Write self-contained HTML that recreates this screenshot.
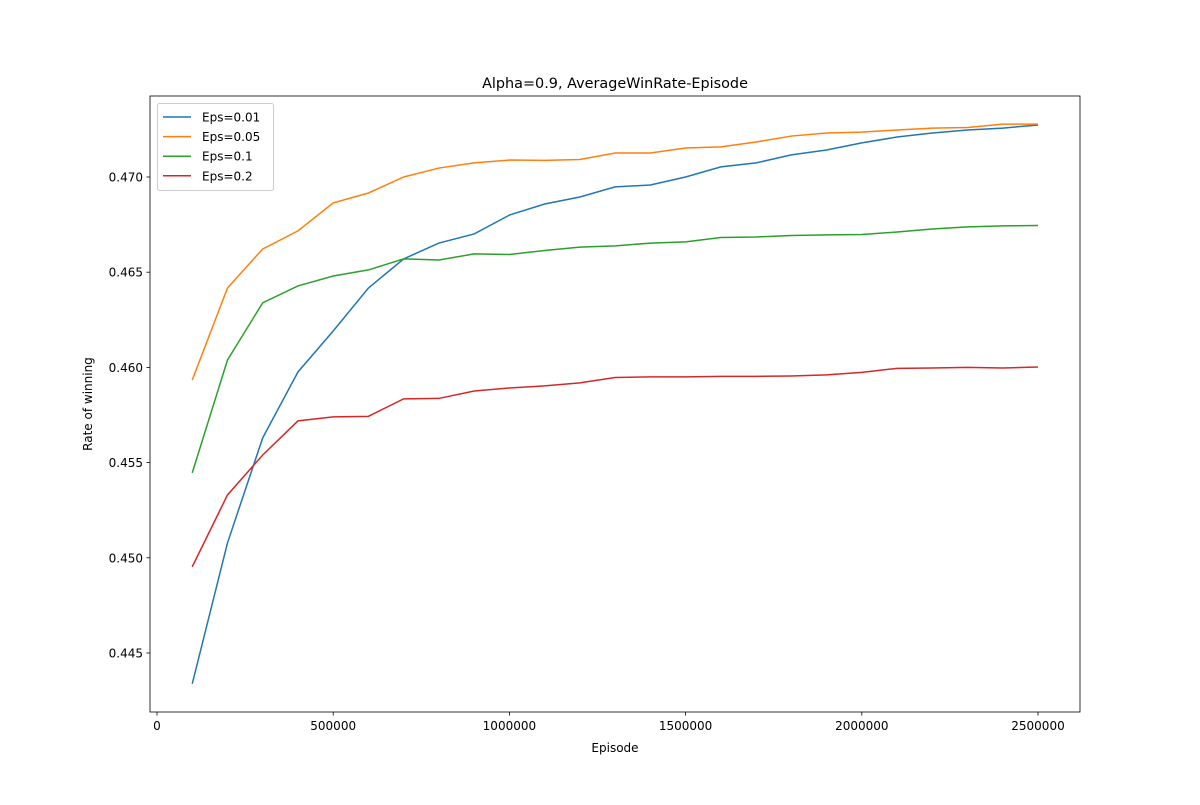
<!DOCTYPE html>
<html><head><meta charset="utf-8"><style>
body{margin:0;background:#fff;}
svg{font-family:"DejaVu Sans","Liberation Sans",sans-serif;}
</style></head><body>
<svg id="chart" width="1200" height="800">
<rect width="1200" height="800" fill="#fff"/>
</svg>
<script>
const episodes=[100000,200000,300000,400000,500000,600000,700000,800000,900000,1000000,1100000,1200000,1300000,1400000,1500000,1600000,1700000,1800000,1900000,2000000,2100000,2200000,2300000,2400000,2500000];
const eps001=[0.44338,0.45078,0.4563,0.45976,0.46191,0.46417,0.4657,0.46653,0.46701,0.468,0.46858,0.46895,0.46948,0.46958,0.470,0.47053,0.47074,0.47116,0.47142,0.47179,0.4721,0.47231,0.47247,0.47257,0.47273];
const eps005=[0.45934,0.46417,0.46622,0.46717,0.46864,0.46916,0.470,0.47047,0.47074,0.47089,0.47087,0.47092,0.47126,0.47126,0.47152,0.47158,0.47184,0.47215,0.47231,0.47236,0.47247,0.47257,0.4726,0.47278,0.47278];
const eps01=[0.45446,0.46039,0.46339,0.46428,0.4648,0.46512,0.4657,0.46564,0.46596,0.46593,0.46614,0.46632,0.46638,0.46653,0.46659,0.46682,0.46685,0.46693,0.46696,0.46698,0.46711,0.46727,0.46738,0.46743,0.46745];
const eps02=[0.44953,0.4533,0.4554,0.45719,0.4574,0.45743,0.45835,0.45837,0.45876,0.45892,0.45903,0.45919,0.45947,0.4595,0.4595,0.45953,0.45953,0.45955,0.45961,0.45974,0.45995,0.45997,0.46,0.45997,0.46002];
const seriesNames=["Eps=0.01","Eps=0.05","Eps=0.1","Eps=0.2"];
const xTicks=[0,500000,1000000,1500000,2000000,2500000];
const yTicks=[0.445,0.450,0.455,0.460,0.465,0.470];

const svg=document.getElementById('chart');
const NS='http://www.w3.org/2000/svg';
const L=150,R=1080,T=96,B=712;
const xs=v=>157+(v/2500000)*881;
const ys=v=>177+(0.470-v)/0.005*95.2;
function mk(t,a){const e=document.createElementNS(NS,t);for(const k in a)e.setAttribute(k,a[k]);svg.appendChild(e);return e;}

xTicks.forEach(t=>{
  const l=mk('line',{x1:xs(t),x2:xs(t),y1:B,y2:B+3.5,stroke:'#000','stroke-width':0.8});
  
  
  const tx=mk('text',{x:xs(t),y:B+18,'text-anchor':'middle','font-size':12});
  tx.textContent=t;
  
  
});
yTicks.forEach(t=>{
  const l=mk('line',{x1:L-3.5,x2:L,y1:ys(t),y2:ys(t),stroke:'#000','stroke-width':0.8});
  
  
  const tx=mk('text',{x:L-7,y:ys(t)+4.5,'text-anchor':'end','font-size':12});
  tx.textContent=t.toFixed(3);
  
  
});

const colors=['#1f77b4','#ff7f0e','#2ca02c','#d62728'];
[eps001,eps005,eps01,eps02].forEach((s,i)=>{
  const p=mk('polyline',{points:s.map((v,j)=>xs(episodes[j])+','+ys(v)).join(' '),fill:'none',stroke:colors[i],'stroke-width':1.5});
  
  
});

const frame=mk('rect',{x:L,y:T,width:R-L,height:B-T,fill:'none',stroke:'#000','stroke-width':0.8});



const title=mk('text',{x:615,y:88,'text-anchor':'middle','font-size':14.4});
title.textContent='Alpha=0.9, AverageWinRate-Episode';


const xt=mk('text',{x:615,y:752,'text-anchor':'middle','font-size':12});
xt.textContent='Episode';


const yt=mk('text',{x:92,y:404,'text-anchor':'middle','font-size':12,transform:'rotate(-90 92 404)'});
yt.textContent='Rate of winning';



const lg=mk('rect',{x:157.5,y:103.5,width:116,height:87,rx:2,fill:'#fff',stroke:'#ccc','stroke-width':1});


seriesNames.forEach((n,i)=>{
  const y=117+i*19.6;
  const l=mk('line',{x1:163,x2:191,y1:y,y2:y,stroke:colors[i],'stroke-width':1.5});
  
  
  const t=mk('text',{x:202,y:y+4.5,'font-size':12});
  t.textContent=n;
  
  
});
</script>
</body></html>
